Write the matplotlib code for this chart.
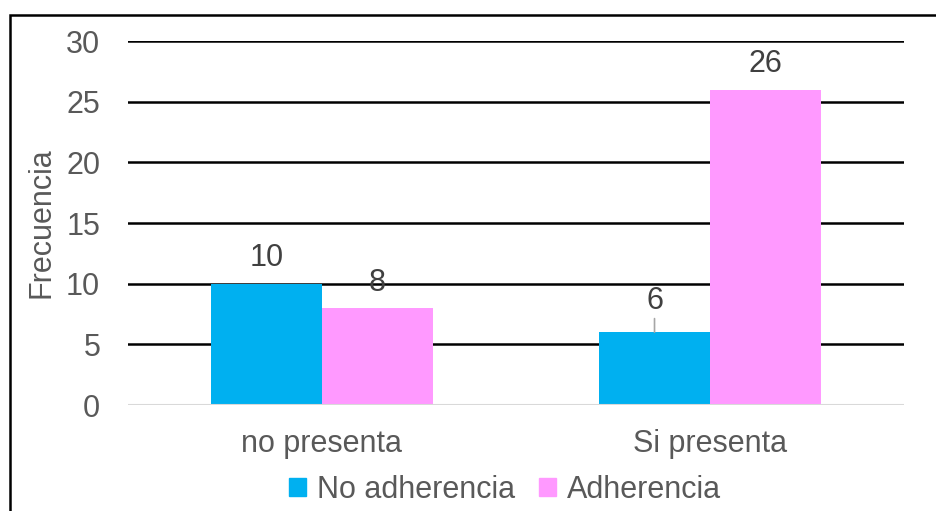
import numpy as np
import matplotlib.pyplot as plt
from matplotlib.patches import Rectangle, Patch

categories = ["no presenta", "Si presenta"]
no_adherencia = [10, 6]
adherencia = [8, 26]
y_ticks = [0, 5, 10, 15, 20, 25, 30]

plt.rcParams['font.family'] = ['Liberation Sans', 'DejaVu Sans']
TXT = '#595959'
FS = 22

W, H = 937, 511
fig = plt.figure(figsize=(W / 100, H / 100), dpi=100)
ax = fig.add_axes([128 / W, 1 - 405 / H, (904 - 128) / W, (405 - 41) / H])

x = np.arange(len(categories))
bw = 0.286
b1 = ax.bar(x - bw / 2, no_adherencia, bw, color='#00B0F0', zorder=3, label='No adherencia')
b2 = ax.bar(x + bw / 2, adherencia, bw, color='#FF99FF', zorder=3, label='Adherencia')

ax.set_xlim(-0.5, 1.5)
ax.set_ylim(0, 30)
ax.set_yticks(y_ticks)
ax.set_xticks(x)
ax.set_xticklabels(categories)
for s in ax.spines.values():
    s.set_visible(False)
ax.axhline(0, color='#D9D9D9', lw=1.5, zorder=4)
for t in y_ticks[1:]:
    ax.axhline(t, color='black', lw=1.8, zorder=1)
ax.tick_params(length=0, labelsize=FS, colors=TXT, pad=20)
ax.tick_params(axis='x', pad=17)
ax.set_ylabel('Frecuencia', fontsize=FS, color=TXT, labelpad=7)

# value labels above bars
for bars, vals in ((b1, no_adherencia), (b2, adherencia)):
    for rect, v in zip(bars, vals):
        cx = rect.get_x() + rect.get_width() / 2
        if v == 6:
            ax.annotate(str(v), xy=(cx, v), xytext=(cx, v + 1.35), ha='center', va='bottom',
                        fontsize=FS, color='#404040',
                        arrowprops=dict(arrowstyle='-', color='#A6A6A6', lw=1.2, shrinkA=0, shrinkB=0))
        else:
            ax.text(cx, v + 0.85, str(v), ha='center', va='bottom', fontsize=FS, color='#404040', zorder=5)

handles = [Patch(color='#00B0F0'), Patch(color='#FF99FF')]
fig.legend(handles, ['No adherencia', 'Adherencia'], loc='center', bbox_to_anchor=(0.539, 1 - 490 / H),
           ncol=2, frameon=False, fontsize=FS, labelcolor=TXT, handlelength=0.55, handleheight=0.55,
           handletextpad=0.35, columnspacing=0.8)

fig.patches.append(Rectangle((10 / W, -0.05), 1.2, 1 - 15 / H + 0.05, transform=fig.transFigure,
                             fill=False, edgecolor='black', lw=1.8))

fig.savefig('out.png', dpi=100)
